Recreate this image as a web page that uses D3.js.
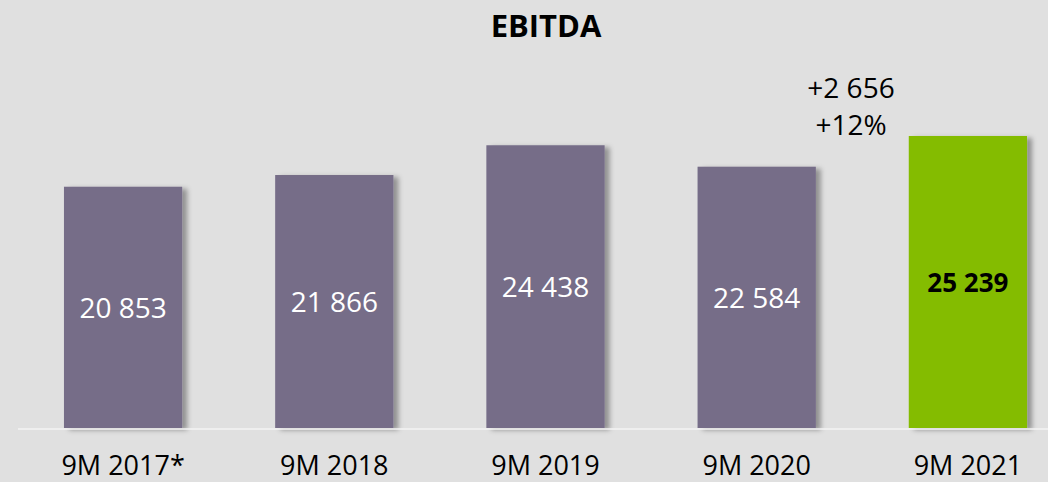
<!DOCTYPE html>
<html>
<head>
<meta charset="utf-8">
<script src="https://cdn.jsdelivr.net/npm/d3@7"></script>
<style>
  body { margin: 0; background: #e0e0e0; }
  svg { display: block; font-family: "Open Sans", sans-serif; }
</style>
</head>
<body>
<div id="main"></div>
<script>
const periods = ["9M 2017*", "9M 2018", "9M 2019", "9M 2020", "9M 2021"];
const ebitda = [20853, 21866, 24438, 22584, 25239];
const valueLabels = ["20 853", "21 866", "24 438", "22 584", "25 239"];
const deltaLabels = ["+2 656", "+12%"];

const width = 1048;
const height = 482;
const baseY = 428;

const colors = ["#766d88", "#766d88", "#766d88", "#766d88", "#84bc00"];

const svg = d3.select("#main")
  .append("svg")
  .attr("width", width)
  .attr("height", height);

const defs = svg.append("defs");
const shadow = defs.append("filter")
  .attr("id", "shadow")
  .attr("x", "-10%").attr("y", "-10%")
  .attr("width", "130%").attr("height", "120%");
shadow.append("feDropShadow")
  .attr("dx", 5).attr("dy", 2)
  .attr("stdDeviation", 2.5)
  .attr("flood-color", "#000")
  .attr("flood-opacity", 0.35);

const x = d3.scaleBand()
  .domain(periods)
  .range([17.5, 1073.5])
  .paddingInner(0.44)
  .paddingOuter(0.22);

const y = d3.scaleLinear()
  .domain([0, 30000])
  .range([baseY, baseY - 347.1]);

svg.append("text")
  .attr("x", 546)
  .attr("y", 37)
  .attr("text-anchor", "middle")
  .style("font-size", "31px")
  .style("font-weight", "bold")
  .text("EBITDA");

svg.append("g")
  .selectAll("rect")
  .data(ebitda)
  .enter()
  .append("rect")
  .attr("x", (d, i) => x(periods[i]))
  .attr("y", d => y(d))
  .attr("width", x.bandwidth())
  .attr("height", d => y(0) - y(d))
  .attr("fill", (d, i) => colors[i])
  .attr("filter", "url(#shadow)");

svg.append("line")
  .attr("x1", 18)
  .attr("x2", width)
  .attr("y1", baseY + 1)
  .attr("y2", baseY + 1)
  .attr("stroke", "#f4f4f4")
  .attr("stroke-width", 1.5);

svg.append("g")
  .selectAll("text")
  .data(ebitda)
  .enter()
  .append("text")
  .attr("x", (d, i) => x(periods[i]) + x.bandwidth() / 2)
  .attr("y", d => (y(d) + y(0)) / 2 + 10.5)
  .attr("text-anchor", "middle")
  .attr("fill", (d, i) => i === 4 ? "#000" : "#fff")
  .style("font-size", (d, i) => i === 4 ? "26px" : "28px")
  .style("font-weight", (d, i) => i === 4 ? "bold" : "normal")
  .text((d, i) => valueLabels[i]);

svg.append("g")
  .selectAll("text")
  .data(periods)
  .enter()
  .append("text")
  .attr("x", d => x(d) + x.bandwidth() / 2)
  .attr("y", 475)
  .attr("text-anchor", "middle")
  .style("font-size", "27px")
  .text(d => d);

svg.append("g")
  .selectAll("text")
  .data(deltaLabels)
  .enter()
  .append("text")
  .attr("x", 851)
  .attr("y", (d, i) => 98 + i * 37)
  .attr("text-anchor", "middle")
  .style("font-size", "28px")
  .text(d => d);
</script>
</body>
</html>
